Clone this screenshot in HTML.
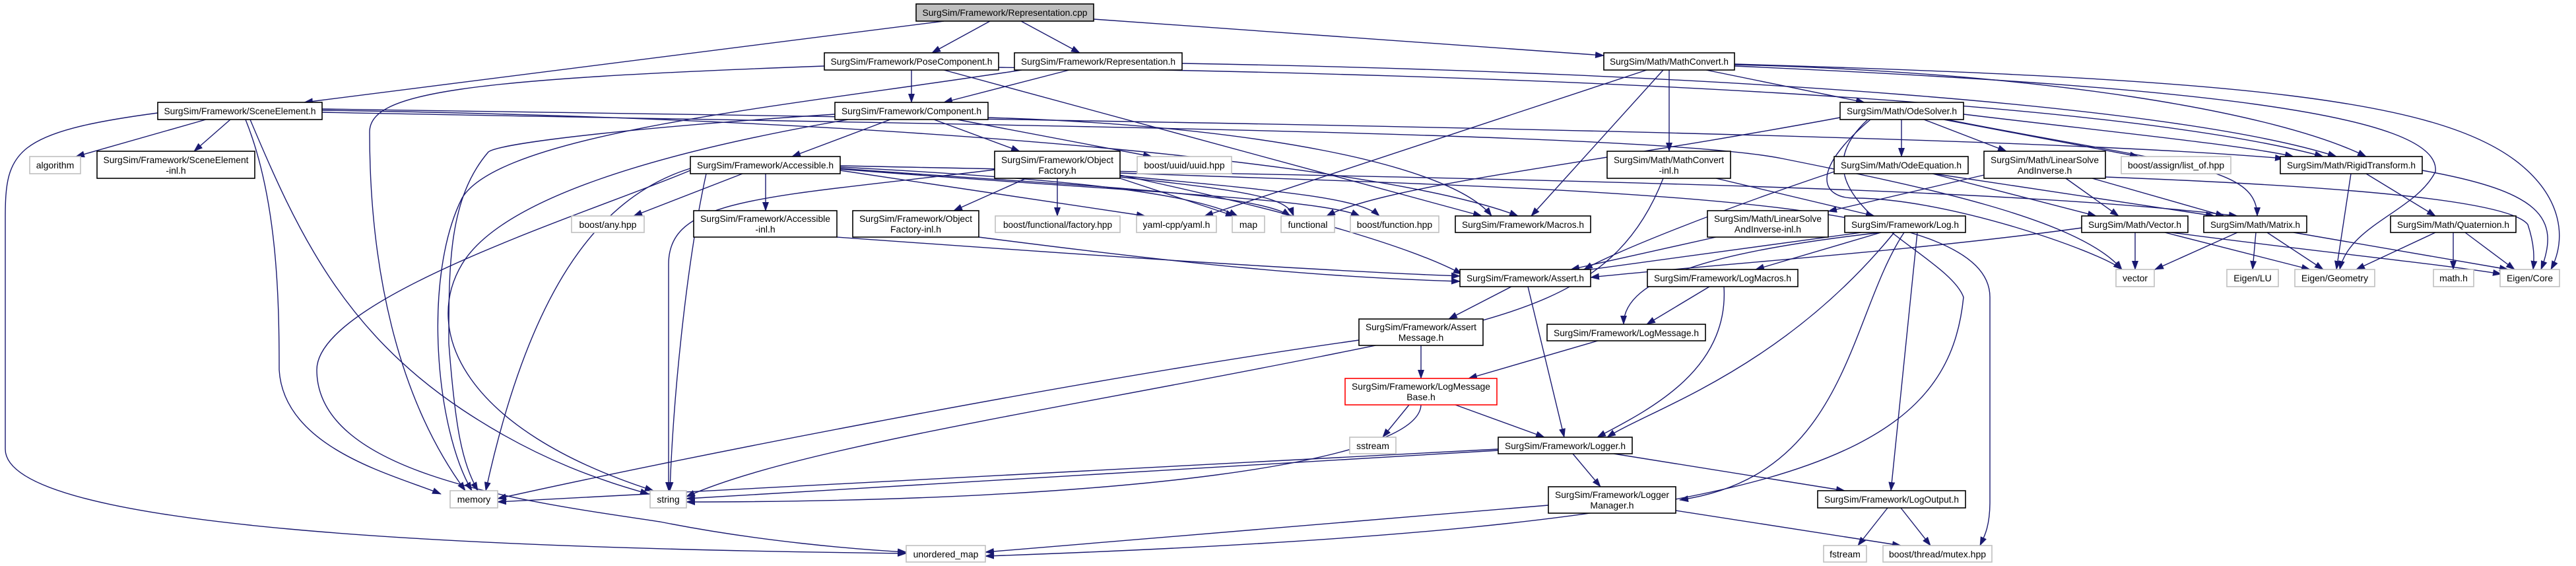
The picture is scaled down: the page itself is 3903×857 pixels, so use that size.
<!DOCTYPE html>
<html><head><meta charset="utf-8"><style>
html,body{margin:0;padding:0;background:#fff;}
svg{display:block;}
text{font-family:"Liberation Sans",Arial,sans-serif;font-size:14px;fill:#000;}
.e{fill:none;stroke:#191970;stroke-width:1.4;marker-end:url(#a);}
.b{fill:#fff;stroke:#000;stroke-width:1.6;}
.g{fill:#fff;stroke:#bfbfbf;stroke-width:1.6;}
</style></head><body>
<svg width="3903" height="857" viewBox="0 0 3903 857" xmlns="http://www.w3.org/2000/svg">
<defs><marker id="a" markerUnits="userSpaceOnUse" markerWidth="14" markerHeight="10" refX="13" refY="5" orient="auto"><path d="M0,0 L14,5 L0,10 z" fill="#191970"/></marker></defs>
<g>
<!-- Representation.cpp -->
<path class="e" d="M1500,32 L1412,80"/>
<path class="e" d="M1547,32 L1636,80"/>
<path class="e" d="M1657,29 L2430,84"/>
<path class="e" d="M1430,32 L461,155"/>
<!-- PoseComponent -->
<path class="e" d="M1381,106 L1381,155"/>
<path class="e" d="M1249,100 C700,120 560,140 560,200 C560,400 600,600 705,743"/>
<path class="e" d="M1513,102 C2300,112 3200,150 3520,237"/>
<path class="e" d="M1430,106 L2245,327"/>
<!-- Representation.h -->
<path class="e" d="M1620,106 L1430,155"/>
<path class="e" d="M1791,96 C2600,110 3300,160 3540,237"/>
<path class="e" d="M1548,106 C1200,160 760,200 700,300 C640,420 660,650 715,743"/>
<!-- MathConvert -->
<path class="e" d="M2585,106 L2825,155"/>
<path class="e" d="M2529,106 L2529,229"/>
<path class="e" d="M2520,106 L2320,327"/>
<path class="e" d="M2495,106 L1825,327"/>
<path class="e" d="M2628,98 C3100,110 3450,170 3585,237"/>
<path class="e" d="M2628,97 C3400,120 3700,150 3820,250 C3880,300 3890,360 3865,408"/>
<path class="e" d="M2628,100 C3300,130 3700,170 3690,260 C3660,320 3560,340 3545,408"/>
<!-- SceneElement -->
<path class="e" d="M312,181 L115,237"/>
<path class="e" d="M349,181 L294,229"/>
<path class="e" d="M372,181 C420,300 423,450 423,560 C430,680 600,720 668,748"/>
<path class="e" d="M379,181 C450,350 520,500 700,620 C820,700 920,730 983,748"/>
<path class="e" d="M239,171 C20,200 8,230 8,330 L8,680 C8,800 700,830 1373,838"/>
<path class="e" d="M488,165 C1500,180 3000,200 3460,240"/>
<path class="e" d="M488,167 C1400,180 2100,250 2300,327"/>
<path class="e" d="M488,170 C1500,190 2500,200 2700,240 C2900,280 3150,330 3215,408"/>
<!-- Component -->
<path class="e" d="M1349,181 L1200,237"/>
<path class="e" d="M1415,181 L1545,229"/>
<path class="e" d="M1450,181 L1745,237"/>
<path class="e" d="M1265,173 C1000,190 760,215 740,230 C680,300 680,400 680,520 C690,650 700,700 724,743"/>
<path class="e" d="M1285,181 C1000,230 760,300 700,400 C640,500 700,650 990,743"/>
<path class="e" d="M1497,178 C1900,190 2200,250 2260,327"/>
<!-- Accessible -->
<path class="e" d="M1160,263 L1160,319"/>
<path class="e" d="M1125,263 L960,327"/>
<path class="e" d="M1046,255 C900,300 800,450 736,743"/>
<path class="e" d="M1070,263 C1040,400 1020,600 1015,743"/>
<path class="e" d="M1046,258 C900,320 480,450 480,560 C480,720 800,760 1000,790 C1150,820 1300,832 1373,836"/>
<path class="e" d="M1273,258 L1735,327"/>
<path class="e" d="M1273,255 C1600,280 1900,290 1955,327"/>
<path class="e" d="M1273,253 C1600,270 1800,290 1875,327"/>
<path class="e" d="M1273,251 C2200,270 3000,280 3390,327"/>
<path class="e" d="M1273,256 C1700,290 2000,300 2060,327"/>
<!-- ObjectFactory -->
<path class="e" d="M1555,270 L1445,319"/>
<path class="e" d="M1602,270 L1602,327"/>
<path class="e" d="M1697,270 L1870,327"/>
<path class="e" d="M1697,268 C1900,290 1950,300 1960,327"/>
<path class="e" d="M1507,257 C1150,300 1013,300 1013,400 L1013,743"/>
<path class="e" d="M1697,265 C2000,330 2150,380 2215,415"/>
<path class="e" d="M1697,262 C2500,290 3015,300 3015,450 L3015,760 C3015,800 3005,815 3000,826"/>
<path class="e" d="M1697,266 C1950,290 2060,300 2090,327"/>
<!-- inl -> Assert -->
<path class="e" d="M1268,359 C1700,390 2000,410 2212,418"/>
<path class="e" d="M1483,359 C1800,400 2000,420 2212,426"/>
<!-- MathConvert-inl -->
<path class="e" d="M2600,270 L2840,327"/>
<path class="e" d="M2520,270 C2450,450 2300,480 2000,540 C1600,620 1200,680 1040,752"/>
<!-- OdeSolver -->
<path class="e" d="M2881,181 L2881,237"/>
<path class="e" d="M2915,181 L3040,229"/>
<path class="e" d="M2945,181 L3240,237"/>
<path class="e" d="M2975,173 C3200,200 3400,220 3475,237"/>
<path class="e" d="M2950,181 C3300,250 3420,250 3420,327"/>
<path class="e" d="M2788,178 C2400,250 2100,280 2010,327"/>
<path class="e" d="M2834,181 C2740,260 2760,300 2810,300 C2950,300 3180,380 3215,408"/>
<path class="e" d="M2830,181 C2700,300 2950,380 2975,450 C2950,700 2700,800 1493,842"/>
<!-- OdeEquation -->
<path class="e" d="M2928,263 L3176,327"/>
<path class="e" d="M2930,263 L3355,327"/>
<path class="e" d="M2779,260 C2600,320 2450,380 2400,408"/>
<!-- LinearSolve -->
<path class="e" d="M3006,265 L2770,320"/>
<path class="e" d="M3130,270 L3210,327"/>
<path class="e" d="M3170,270 L3370,327"/>
<path class="e" d="M3190,268 C3500,280 3800,300 3830,340 C3840,370 3840,390 3838,408"/>
<!-- LinearSolve-inl -->
<path class="e" d="M2600,359 L2380,408"/>
<!-- Log.h -->
<path class="e" d="M2820,352 L2395,410"/>
<path class="e" d="M2850,352 L2660,408"/>
<path class="e" d="M2850,352 C2600,380 2460,420 2460,491"/>
<path class="e" d="M2870,352 C2700,560 2500,620 2435,662"/>
<path class="e" d="M2885,352 C2800,480 2800,720 2545,757"/>
<path class="e" d="M2905,352 L2865,743"/>
<!-- Assert -->
<path class="e" d="M2290,434 L2195,483"/>
<path class="e" d="M2315,434 L2370,662"/>
<!-- LogMacros -->
<path class="e" d="M2590,434 L2495,491"/>
<path class="e" d="M2612,434 C2620,560 2500,620 2420,662"/>
<!-- AssertMessage -->
<path class="e" d="M2153,523 L2153,573"/>
<path class="e" d="M2059,515 C1600,580 1000,700 754,755"/>
<!-- LogMessage -->
<path class="e" d="M2421,516 L2225,573"/>
<!-- LogMessageBase -->
<path class="e" d="M2135,613 L2095,662"/>
<path class="e" d="M2205,613 L2340,662"/>
<path class="e" d="M2153,613 C2150,700 1700,760 1040,760"/>
<!-- Logger -->
<path class="e" d="M2270,680 L754,760"/>
<path class="e" d="M2270,682 L1040,755"/>
<path class="e" d="M2383,687 L2425,737"/>
<path class="e" d="M2445,687 L2795,743"/>
<!-- LoggerManager -->
<path class="e" d="M2346,765 L1493,836"/>
<path class="e" d="M2539,773 L2880,826"/>
<!-- LogOutput -->
<path class="e" d="M2860,769 L2815,826"/>
<path class="e" d="M2880,769 L2925,826"/>
<!-- Vector -->
<path class="e" d="M3235,352 L3235,408"/>
<path class="e" d="M3280,352 L3500,408"/>
<path class="e" d="M3290,352 C3500,380 3700,400 3790,415"/>
<path class="e" d="M3154,345 C2900,380 2600,400 2410,420"/>
<!-- Matrix -->
<path class="e" d="M3390,352 L3265,408"/>
<path class="e" d="M3418,352 L3413,408"/>
<path class="e" d="M3435,352 L3520,408"/>
<path class="e" d="M3475,352 L3800,408"/>
<!-- Quaternion -->
<path class="e" d="M3690,352 L3570,408"/>
<path class="e" d="M3717,352 L3717,408"/>
<path class="e" d="M3735,352 L3810,408"/>
<!-- RigidTransform -->
<path class="e" d="M3562,263 L3540,408"/>
<path class="e" d="M3585,263 L3690,327"/>
<path class="e" d="M3670,258 C3850,290 3880,330 3850,408"/>
</g>
<g>
<rect x="1388" y="6" width="269" height="26" fill="#bfbfbf" stroke="#000" stroke-width="1.6"/><text x="1522.5" y="24" text-anchor="middle" textLength="250" lengthAdjust="spacingAndGlyphs">SurgSim/Framework/Representation.cpp</text>
<rect class="b" x="1249" y="80" width="264" height="26"/><text x="1381" y="98" text-anchor="middle" textLength="245" lengthAdjust="spacingAndGlyphs">SurgSim/Framework/PoseComponent.h</text>
<rect class="b" x="1537" y="80" width="254" height="26"/><text x="1664" y="98" text-anchor="middle" textLength="234" lengthAdjust="spacingAndGlyphs">SurgSim/Framework/Representation.h</text>
<rect class="b" x="2430" y="80" width="198" height="26"/><text x="2529" y="98" text-anchor="middle" textLength="180" lengthAdjust="spacingAndGlyphs">SurgSim/Math/MathConvert.h</text>
<rect class="b" x="239" y="155" width="249" height="26"/><text x="363.5" y="173" text-anchor="middle" textLength="230" lengthAdjust="spacingAndGlyphs">SurgSim/Framework/SceneElement.h</text>
<rect class="b" x="1265" y="155" width="232" height="26"/><text x="1381" y="173" text-anchor="middle" textLength="212" lengthAdjust="spacingAndGlyphs">SurgSim/Framework/Component.h</text>
<rect class="b" x="2788" y="155" width="187" height="26"/><text x="2881.5" y="173" text-anchor="middle" textLength="167" lengthAdjust="spacingAndGlyphs">SurgSim/Math/OdeSolver.h</text>
<rect class="g" x="45" y="237" width="77" height="26"/><text x="83.5" y="255" text-anchor="middle">algorithm</text>
<rect class="b" x="147" y="229" width="239" height="41"/><text x="266.5" y="247" text-anchor="middle" textLength="220" lengthAdjust="spacingAndGlyphs">SurgSim/Framework/SceneElement</text><text x="266.5" y="263" text-anchor="middle">-inl.h</text>
<rect class="g" x="866" y="327" width="110" height="25"/><text x="921" y="345" text-anchor="middle">boost/any.hpp</text>
<rect class="b" x="1046" y="237" width="227" height="26"/><text x="1159.5" y="255" text-anchor="middle" textLength="207" lengthAdjust="spacingAndGlyphs">SurgSim/Framework/Accessible.h</text>
<rect class="b" x="1507" y="229" width="190" height="41"/><text x="1602" y="247" text-anchor="middle" textLength="170" lengthAdjust="spacingAndGlyphs">SurgSim/Framework/Object</text><text x="1602" y="263" text-anchor="middle">Factory.h</text>
<rect class="g" x="1723" y="237" width="143" height="26"/><text x="1794.5" y="255" text-anchor="middle">boost/uuid/uuid.hpp</text>
<rect class="b" x="1051" y="319" width="217" height="40"/><text x="1159.5" y="336" text-anchor="middle" textLength="197" lengthAdjust="spacingAndGlyphs">SurgSim/Framework/Accessible</text><text x="1159.5" y="352" text-anchor="middle">-inl.h</text>
<rect class="b" x="1292" y="319" width="191" height="40"/><text x="1387.5" y="336" text-anchor="middle" textLength="171" lengthAdjust="spacingAndGlyphs">SurgSim/Framework/Object</text><text x="1387.5" y="352" text-anchor="middle">Factory-inl.h</text>
<rect class="g" x="1508" y="327" width="189" height="25"/><text x="1602.5" y="345" text-anchor="middle" textLength="165" lengthAdjust="spacingAndGlyphs">boost/functional/factory.hpp</text>
<rect class="g" x="1722" y="327" width="121" height="25"/><text x="1782.5" y="345" text-anchor="middle">yaml-cpp/yaml.h</text>
<rect class="g" x="1867" y="327" width="49" height="25"/><text x="1891.5" y="345" text-anchor="middle">map</text>
<rect class="g" x="1941" y="327" width="81" height="25"/><text x="1981.5" y="345" text-anchor="middle">functional</text>
<rect class="g" x="2046" y="327" width="134" height="25"/><text x="2113" y="345" text-anchor="middle">boost/function.hpp</text>
<rect class="b" x="2205" y="327" width="205" height="25"/><text x="2307.5" y="345" text-anchor="middle" textLength="185" lengthAdjust="spacingAndGlyphs">SurgSim/Framework/Macros.h</text>
<rect class="b" x="2435" y="229" width="187" height="41"/><text x="2528.5" y="247" text-anchor="middle" textLength="167" lengthAdjust="spacingAndGlyphs">SurgSim/Math/MathConvert</text><text x="2528.5" y="263" text-anchor="middle">-inl.h</text>
<rect class="b" x="2779" y="237" width="203" height="26"/><text x="2880.5" y="255" text-anchor="middle" textLength="183" lengthAdjust="spacingAndGlyphs">SurgSim/Math/OdeEquation.h</text>
<rect class="b" x="2587" y="319" width="183" height="40"/><text x="2678.5" y="336" text-anchor="middle" textLength="163" lengthAdjust="spacingAndGlyphs">SurgSim/Math/LinearSolve</text><text x="2678.5" y="352" text-anchor="middle">AndInverse-inl.h</text>
<rect class="b" x="2795" y="327" width="183" height="25"/><text x="2886.5" y="345" text-anchor="middle" textLength="163" lengthAdjust="spacingAndGlyphs">SurgSim/Framework/Log.h</text>
<rect class="b" x="3006" y="229" width="184" height="41"/><text x="3098" y="247" text-anchor="middle" textLength="164" lengthAdjust="spacingAndGlyphs">SurgSim/Math/LinearSolve</text><text x="3098" y="263" text-anchor="middle">AndInverse.h</text>
<rect class="g" x="3214" y="237" width="166" height="26"/><text x="3297" y="255" text-anchor="middle">boost/assign/list_of.hpp</text>
<rect class="b" x="3455" y="237" width="215" height="26"/><text x="3562.5" y="255" text-anchor="middle" textLength="195" lengthAdjust="spacingAndGlyphs">SurgSim/Math/RigidTransform.h</text>
<rect class="b" x="3154" y="327" width="161" height="25"/><text x="3234.5" y="345" text-anchor="middle" textLength="141" lengthAdjust="spacingAndGlyphs">SurgSim/Math/Vector.h</text>
<rect class="b" x="3339" y="327" width="156" height="25"/><text x="3417" y="345" text-anchor="middle" textLength="136" lengthAdjust="spacingAndGlyphs">SurgSim/Math/Matrix.h</text>
<rect class="b" x="3622" y="327" width="190" height="25"/><text x="3717" y="345" text-anchor="middle" textLength="170" lengthAdjust="spacingAndGlyphs">SurgSim/Math/Quaternion.h</text>
<rect class="g" x="3206" y="408" width="58" height="26"/><text x="3235" y="426" text-anchor="middle">vector</text>
<rect class="g" x="3374" y="408" width="78" height="26"/><text x="3413" y="426" text-anchor="middle">Eigen/LU</text>
<rect class="g" x="3477" y="408" width="121" height="26"/><text x="3537.5" y="426" text-anchor="middle">Eigen/Geometry</text>
<rect class="g" x="3687" y="408" width="61" height="26"/><text x="3717.5" y="426" text-anchor="middle">math.h</text>
<rect class="g" x="3788" y="408" width="90" height="26"/><text x="3833" y="426" text-anchor="middle">Eigen/Core</text>
<rect class="b" x="2212" y="408" width="198" height="26"/><text x="2311" y="426" text-anchor="middle" textLength="178" lengthAdjust="spacingAndGlyphs">SurgSim/Framework/Assert.h</text>
<rect class="b" x="2496" y="408" width="228" height="26"/><text x="2610" y="426" text-anchor="middle" textLength="208" lengthAdjust="spacingAndGlyphs">SurgSim/Framework/LogMacros.h</text>
<rect class="b" x="2059" y="483" width="188" height="40"/><text x="2153" y="500" text-anchor="middle" textLength="168" lengthAdjust="spacingAndGlyphs">SurgSim/Framework/Assert</text><text x="2153" y="516" text-anchor="middle">Message.h</text>
<rect class="b" x="2344" y="491" width="240" height="25"/><text x="2464" y="509" text-anchor="middle" textLength="220" lengthAdjust="spacingAndGlyphs">SurgSim/Framework/LogMessage.h</text>
<rect x="2038" y="573" width="230" height="40" fill="#fff" stroke="#ff0000" stroke-width="1.6"/><text x="2153" y="590" text-anchor="middle" textLength="210" lengthAdjust="spacingAndGlyphs">SurgSim/Framework/LogMessage</text><text x="2153" y="606" text-anchor="middle">Base.h</text>
<rect class="g" x="2045" y="662" width="70" height="25"/><text x="2080" y="680" text-anchor="middle">sstream</text>
<rect class="b" x="2270" y="662" width="203" height="25"/><text x="2371.5" y="680" text-anchor="middle" textLength="183" lengthAdjust="spacingAndGlyphs">SurgSim/Framework/Logger.h</text>
<rect class="g" x="682" y="743" width="72" height="26"/><text x="718" y="761" text-anchor="middle">memory</text>
<rect class="g" x="985" y="743" width="55" height="26"/><text x="1012.5" y="761" text-anchor="middle">string</text>
<rect class="b" x="2346" y="737" width="193" height="40"/><text x="2442.5" y="754" text-anchor="middle" textLength="173" lengthAdjust="spacingAndGlyphs">SurgSim/Framework/Logger</text><text x="2442.5" y="770" text-anchor="middle">Manager.h</text>
<rect class="b" x="2754" y="743" width="224" height="26"/><text x="2866" y="761" text-anchor="middle" textLength="204" lengthAdjust="spacingAndGlyphs">SurgSim/Framework/LogOutput.h</text>
<rect class="g" x="1373" y="826" width="120" height="25"/><text x="1433" y="844" text-anchor="middle">unordered_map</text>
<rect class="g" x="2763" y="826" width="65" height="25"/><text x="2795.5" y="844" text-anchor="middle">fstream</text>
<rect class="g" x="2853" y="826" width="165" height="25"/><text x="2935.5" y="844" text-anchor="middle">boost/thread/mutex.hpp</text>
</g>
</svg>
</body></html>
